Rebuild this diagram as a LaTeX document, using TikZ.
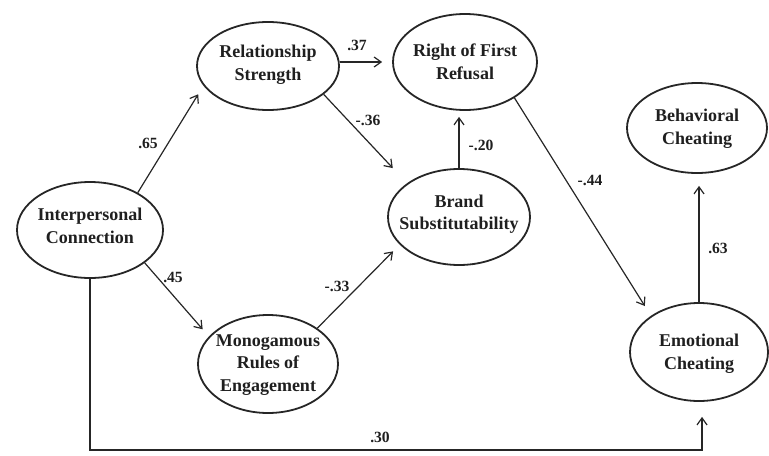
\documentclass[tikz,border=0pt]{standalone}
\usepackage{fontspec}
\setmainfont{Liberation Serif}
\usetikzlibrary{shapes.geometric,arrows.meta}
\begin{document}
\begin{tikzpicture}[x=0.5pt,y=-0.5pt,
  ell/.style={draw=black!85, line width=0.9pt, ellipse, inner sep=0pt},
  lbl/.style={font=\bfseries\fontsize{9}{11.3}\selectfont, align=center, text=black!88, inner sep=0pt},
  coef/.style={font=\bfseries\fontsize{7.8}{9}\selectfont, text=black!88, inner sep=0pt},
  arr/.style={draw=black!85, line width=0.6pt, -{Straight Barb[length=3.5pt,width=5pt]}}]
\useasboundingbox (0,0) rectangle (769,455);
% ellipses
\node[ell, minimum width=73pt, minimum height=48pt] (IC) at (90,230) {};
\node[ell, minimum width=71pt, minimum height=44pt] (RS) at (268,66) {};
\node[ell, minimum width=72pt, minimum height=48pt] (RFR) at (465,62) {};
\node[ell, minimum width=70pt, minimum height=45pt] (BC) at (697,128) {};
\node[ell, minimum width=71pt, minimum height=48pt] (BS) at (459,217) {};
\node[ell, minimum width=70pt, minimum height=49pt] (MR) at (268,364) {};
\node[ell, minimum width=69pt, minimum height=49pt] (EC) at (699,352) {};
% texts
\node[lbl] (ICt) at (90,226) {Interpersonal\\Connection};
\node[lbl] (RSt) at (268,65) {Relationship\\Strength};
\node[lbl] (RFRt) at (465,62) {Right of First\\Refusal};
\node[lbl] (BCt) at (697,129) {Behavioral\\Cheating};
\node[lbl] (BSt) at (459,214) {Brand\\Substitutability};
\node[lbl] (MRt) at (268,365) {Monogamous\\Rules of\\Engagement};
\node[lbl] (ECt) at (699,354) {Emotional\\Cheating};
% connectors
\draw[arr, shorten >=5pt] (IC.38.7) -- (RS.197);
\draw[arr, shorten >=4.75pt] (IC.-31.9) -- (MR.155.4);
\draw[arr, shorten >=5pt] (RS.east |- RFR.west) -- (RFR.west);
\draw[arr, shorten >=10.4pt] (RS.-27.8) -- (BS.147.5);
\draw[arr, shorten >=4.7pt] (MR.36.9) -- (BS.205.1);
\draw[arr, shorten >=3pt] (BS.north) -- (BS.north |- RFR.south);
\draw[arr, shorten >=5.75pt] (RFR.-36.7) -- (EC.143.6);
\draw[arr, shorten >=6pt] (EC.north) -- (EC.north |- BC.south);
\coordinate (c2) at (702,450);
\draw[arr, shorten >=7.5pt] (IC.south) |- (c2) -- (c2 |- EC.south);
% coefficients
\node[coef] (k1) at (148,143) {.65};
\node[coef] (k2) at (173,277) {.45};
\node[coef] (k3) at (357,45) {.37};
\node[coef] (k4) at (368,120) {-.36};
\node[coef] (k5) at (481,145) {-.20};
\node[coef] (k6) at (337,286) {-.33};
\node[coef] (k7) at (590,180) {-.44};
\node[coef] (k8) at (718,248) {.63};
\node[coef] (k9) at (380,437) {.30};
\end{tikzpicture}
\end{document}
